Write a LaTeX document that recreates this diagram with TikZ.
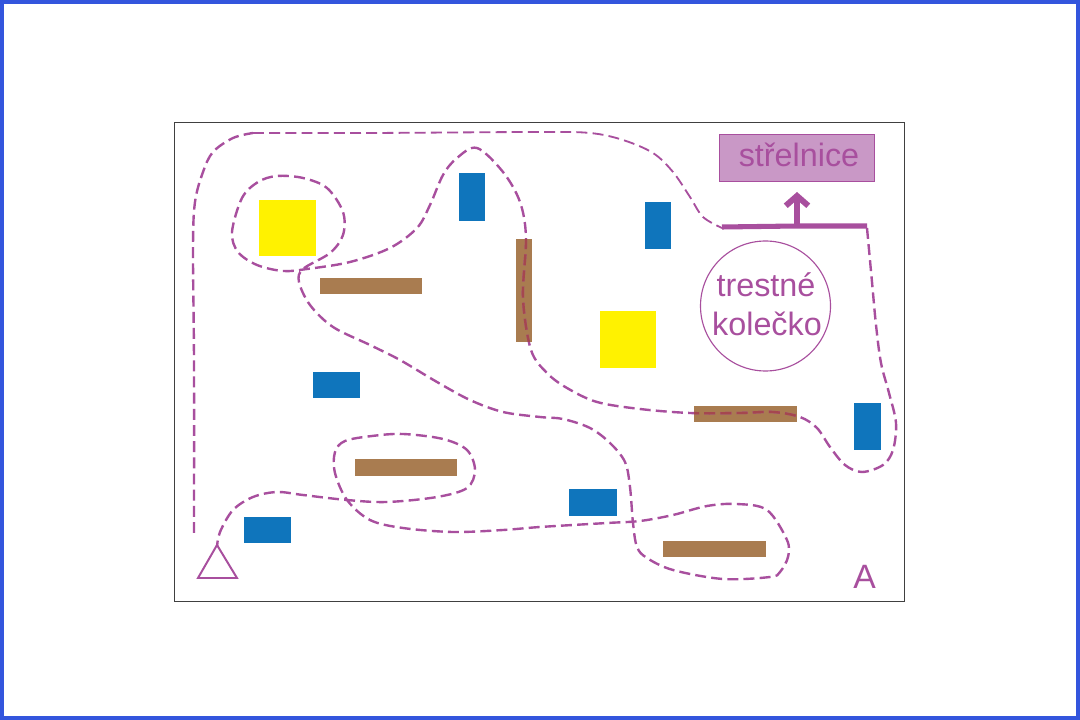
\documentclass[tikz,border=0pt]{standalone}
\usepackage{fontspec}
\setmainfont{Liberation Sans}
\usetikzlibrary{arrows.meta}
\definecolor{fialova}{HTML}{A84F9E}
\definecolor{svetlafialova}{HTML}{C998C6}
\definecolor{zluta}{HTML}{FFF200}
\definecolor{modra}{HTML}{0F75BC}
\definecolor{hneda}{HTML}{A97C50}
\definecolor{cervena}{HTML}{A5474F}
\definecolor{okraj}{HTML}{3355DD}
\tikzset{
  >=Stealth,
  trasa/.style={draw=fialova, line width=1.7pt, dash pattern=on 7.8pt off 3.7pt},
  trasatenka/.style={trasa, line width=1.3pt},
  cil/.style={fill=zluta},
  prekazka/.style={fill=modra},
  kmen/.style={fill=hneda},
  popis/.style={text=fialova, anchor=base, inner sep=0pt, font=\fontsize{23}{23}\selectfont},
}
% the route, in pixels of the picture
\newcommand{\trasastart}{plot[smooth, tension=0.55] coordinates {
  (194,533) (194,362) (193,248) (195,202) (203,172) (213,152) (233,138) (253,133)}}
\newcommand{\trasahorni}{plot[smooth, tension=0.55] coordinates {
  (253,133) (370,133) (537,132) (590,133) (623,140) (653,153) (673,172) (690,197) (703,217) (722,228)}}
\newcommand{\trasadruha}{plot[smooth, tension=0.55] coordinates {
  (867,228) (872,282) (876,325) (881,363) (889,393) (896,423) (893,450) (883,465) (862,472) (845,465) (830,447)
  (817,428) (800,417) (773,412) (740,413) (690,413) (640,409) (597,402) (567,388) (547,373) (531,350)
  (523,298) (526,238) (520,202) (503,172) (477,148) (457,158) (443,175) (430,205) (417,228) (390,248)
  (350,262) (307,269) (283,271) (257,265) (238,252) (232,232) (242,198) (258,182) (277,176) (303,178)
  (327,188) (343,212) (343,235) (330,253) (303,269) (299,282) (310,305) (333,327) (370,345) (400,360)
  (437,382) (470,400) (503,412) (540,417) (563,419) (590,428) (610,443) (625,462) (630,487) (633,523)
  (637,547) (647,558) (673,570) (723,579) (770,577) (780,572) (788,557) (787,540) (767,510) (737,504)
  (707,506) (673,515) (640,521) (607,523) (540,527) (503,530) (453,532) (403,528) (370,520) (347,500)
  (335,473) (335,452) (345,441) (372,436) (403,434) (443,439) (467,450) (475,470) (467,488) (437,497) (387,502)
  (347,500) (303,495) (277,492) (253,497) (233,510) (220,532) (217,547)}}

\begin{document}
\begin{tikzpicture}[x=0.025cm, y=-0.025cm]
  \useasboundingbox (0,0) rectangle (1080,720);
  \fill[white] (0,0) rectangle (1080,720);
  \draw[okraj, line width=2.9pt] (2,2) rectangle (1078,718);
  \draw[black!75, line width=0.6pt] (174,122) rectangle (904,601);

  \fill[cil] (259,200) rectangle (316,256);
  \fill[cil] (600,311) rectangle (656,368);

  \fill[prekazka] (459,173) rectangle (485,221);
  \fill[prekazka] (645,202) rectangle (671,249);
  \fill[prekazka] (854,403) rectangle (881,450);
  \fill[prekazka] (313,372) rectangle (360,398);
  \fill[prekazka] (569,489) rectangle (617,516);
  \fill[prekazka] (244,517) rectangle (291,543);

  \fill[kmen] (516,239) rectangle (532,342);
  \fill[kmen] (320,278) rectangle (422,294);
  \fill[kmen] (694,406) rectangle (797,422);
  \fill[kmen] (355,459) rectangle (457,476);
  \fill[kmen] (663,541) rectangle (766,557);

  \draw[trasa] \trasastart;
  \draw[trasatenka] \trasahorni;
  \draw[trasa] \trasadruha;
  % route is darker where it crosses a log
  \begin{scope}
    \clip (516,239) rectangle (532,342) (694,406) rectangle (797,422);
    \draw[trasa, draw=cervena] \trasadruha;
  \end{scope}

  \fill[svetlafialova, draw=fialova, line width=0.7pt] (719,134) rectangle (874,181);
  \node[popis] (strelnice) at (799,167) {střelnice};
  \draw[fialova, line width=0.8pt] (765.5,306) circle [radius=65];
  \node[popis] (trestne) at (766,297) {trestné};
  \node[popis] (kolecko) at (767,336) {kolečko};
  \node[popis, font=\fontsize{24}{24}\selectfont] (mapa) at (864.5,589) {A};

  \coordinate (palba) at (797,226);
  \coordinate (palbacil) at (797,192);
  \draw[fialova, line width=3.6pt] (722,227) -- (palba) -- (867,226);
  \draw[fialova, line width=4.2pt, -{Straight Barb[length=7pt,width=16pt,line width=4.2pt]}] (palba) -- (palbacil);

  \draw[fialova, line width=1.4pt] (217,545) -- (237,578) -- (198,578) -- cycle;
\end{tikzpicture}
\end{document}
